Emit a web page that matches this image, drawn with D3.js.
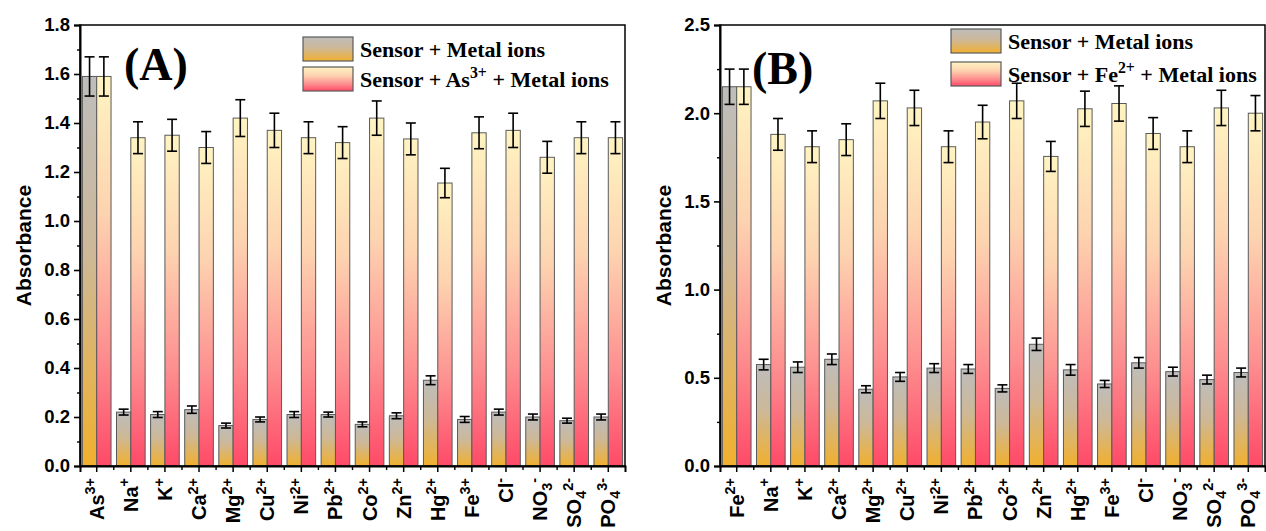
<!DOCTYPE html>
<html>
<head>
<meta charset="utf-8">
<script src="https://cdn.jsdelivr.net/npm/d3@7"></script>
<style>
  body { margin: 0; background: #fff; }
  svg { display: block; }
</style>
</head>
<body>
<div id="grafico"></div>
<script>
// Dados do painel (A)
const ionsA = ['As^{3+}', 'Na^{+}', 'K^{+}', 'Ca^{2+}', 'Mg^{2+}', 'Cu^{2+}', 'Ni^{2+}', 'Pb^{2+}',
  'Co^{2+}', 'Zn^{2+}', 'Hg^{2+}', 'Fe^{3+}', 'Cl^{-}', 'NO_{3}^{-}', 'SO_{4}^{2-}', 'PO_{4}^{3-}'];
const sensorA = [1.59, 0.22, 0.21, 0.23, 0.165, 0.19, 0.21, 0.21, 0.17, 0.205, 0.35, 0.19, 0.22, 0.20, 0.185, 0.20];
const sensorAErr = [0.08, 0.012, 0.012, 0.015, 0.01, 0.01, 0.012, 0.01, 0.01, 0.012, 0.018, 0.012, 0.012, 0.012, 0.01, 0.012];
const sensorAsA = [1.59, 1.34, 1.35, 1.30, 1.42, 1.37, 1.34, 1.32, 1.42, 1.335, 1.155, 1.36, 1.37, 1.26, 1.34, 1.34];
const sensorAsAErr = [0.08, 0.065, 0.065, 0.065, 0.075, 0.07, 0.065, 0.065, 0.07, 0.065, 0.06, 0.065, 0.07, 0.065, 0.065, 0.065];
const ticksA = [0, 0.2, 0.4, 0.6, 0.8, 1.0, 1.2, 1.4, 1.6, 1.8];

// Dados do painel (B)
const ionsB = ['Fe^{2+}', 'Na^{+}', 'K^{+}', 'Ca^{2+}', 'Mg^{2+}', 'Cu^{2+}', 'Ni^{2+}', 'Pb^{2+}',
  'Co^{2+}', 'Zn^{2+}', 'Hg^{2+}', 'Fe^{3+}', 'Cl^{-}', 'NO_{3}^{-}', 'SO_{4}^{2-}', 'PO_{4}^{3-}'];
const sensorB = [2.15, 0.575, 0.56, 0.605, 0.435, 0.505, 0.555, 0.55, 0.44, 0.69, 0.545, 0.465, 0.585, 0.535, 0.49, 0.53];
const sensorBErr = [0.1, 0.03, 0.03, 0.03, 0.02, 0.025, 0.025, 0.025, 0.02, 0.035, 0.03, 0.02, 0.03, 0.025, 0.025, 0.025];
const sensorFeB = [2.15, 1.88, 1.81, 1.85, 2.07, 2.03, 1.81, 1.95, 2.07, 1.755, 2.025, 2.055, 1.885, 1.81, 2.03, 2.0];
const sensorFeBErr = [0.1, 0.09, 0.09, 0.09, 0.1, 0.1, 0.09, 0.095, 0.1, 0.085, 0.1, 0.1, 0.09, 0.09, 0.1, 0.1];
const ticksB = [0, 0.5, 1.0, 1.5, 2.0, 2.5];

const largura = 1266;
const altura = 531;

const svg = d3.select('#grafico').append('svg')
  .attr('width', largura)
  .attr('height', altura);

svg.append('rect').attr('width', largura).attr('height', altura).attr('fill', '#fff');

// Gradientes das barras
const defs = svg.append('defs');
function gradiente(id, stops) {
  const g = defs.append('linearGradient').attr('id', id)
    .attr('x1', 0).attr('y1', 0).attr('x2', 0).attr('y2', 1);
  stops.forEach(([o, c]) => g.append('stop').attr('offset', o).attr('stop-color', c));
}
gradiente('gradCinza', [[0, '#bebdbc'], [0.45, '#cdb898'], [1, '#f1b02e']]);
gradiente('gradRosa', [[0, '#fff4c2'], [0.35, '#fdd3b0'], [0.7, '#fd9090'], [1, '#ff4a68']]);

// Escreve texto com sobrescritos/subscritos: 'NO_{3}^{-}'
function textoQuimico(sel, str, tamanho, escala) {
  const partes = [];
  const re = /([_^])\{([^}]*)\}|([^_^]+)/g;
  let m;
  while ((m = re.exec(str)) !== null) {
    if (m[3]) partes.push({ t: m[3], tipo: 'base' });
    else partes.push({ t: m[2], tipo: m[1] === '^' ? 'sup' : 'sub' });
  }
  let atual = 0;
  partes.forEach((p) => {
    const alvo = p.tipo === 'sup' ? -0.42 * tamanho : p.tipo === 'sub' ? 0.25 * tamanho : 0;
    sel.append('tspan')
      .attr('dy', alvo - atual)
      .style('font-size', p.tipo === 'base' ? `${tamanho}px` : `${tamanho * escala}px`)
      .text(p.t);
    atual = alvo;
  });
}

function painel(cfg) {
  const { x0, x1, y0, y1, ions, s1, e1, s2, e2, maxY, ticks, minor, letra, letraPos, legenda } = cfg;

  const x = d3.scaleBand().domain(ions).range([x0, x1]).paddingInner(0.16).paddingOuter(0.07);
  const xs = d3.scaleBand().domain(['a', 'b']).range([0, x.bandwidth()]);
  const y = d3.scaleLinear().domain([0, maxY]).range([y0, y1]);

  const g = svg.append('g');

  const dados = ions.map((ion, i) => [
    { ion, k: 'a', v: s1[i], e: e1[i] },
    { ion, k: 'b', v: s2[i], e: e2[i] }
  ]).flat();

  // Barras
  g.selectAll('.bar').data(dados).enter().append('rect')
    .attr('x', (d) => x(d.ion) + xs(d.k))
    .attr('width', xs.bandwidth())
    .attr('y', (d) => y(d.v))
    .attr('height', (d) => y(0) - y(d.v))
    .attr('fill', (d) => (d.k === 'a' ? 'url(#gradCinza)' : 'url(#gradRosa)'))
    .attr('stroke', '#5a5a5a')
    .attr('stroke-width', 1);

  // Barras de erro
  const erro = g.selectAll('.err').data(dados).enter().append('g')
    .attr('transform', (d) => `translate(${x(d.ion) + xs(d.k) + xs.bandwidth() / 2},0)`)
    .attr('stroke', '#000').attr('stroke-width', 1.6);
  erro.append('line').attr('y1', (d) => y(d.v + d.e)).attr('y2', (d) => y(d.v - d.e));
  erro.append('line').attr('x1', -5).attr('x2', 5).attr('y1', (d) => y(d.v + d.e)).attr('y2', (d) => y(d.v + d.e));
  erro.append('line').attr('x1', -5).attr('x2', 5).attr('y1', (d) => y(d.v - d.e)).attr('y2', (d) => y(d.v - d.e));

  // Moldura
  g.append('rect').attr('x', x0).attr('y', y1).attr('width', x1 - x0).attr('height', y0 - y1)
    .attr('fill', 'none').attr('stroke', '#000').attr('stroke-width', 1.5);

  // Eixo Y
  const eixoY = g.append('g').attr('transform', `translate(${x0},0)`)
    .call(d3.axisLeft(y).tickValues(ticks).tickSize(6).tickPadding(4).tickFormat(d3.format('.1f')));
  eixoY.select('.domain').attr('stroke-width', 2);
  eixoY.selectAll('.tick line').attr('stroke-width', 1.6);
  eixoY.selectAll('text')
    .style('font-family', '"Liberation Sans", Arial, sans-serif')
    .style('font-weight', 'bold').style('font-size', '18.5px').attr('fill', '#000');
  g.append('g').attr('transform', `translate(${x0},0)`)
    .call(d3.axisLeft(y).tickValues(minor).tickSize(3).tickFormat(''))
    .call((a) => a.select('.domain').remove())
    .selectAll('line').attr('stroke-width', 1.4);

  // Eixo X
  const eixoX = g.append('g').attr('transform', `translate(0,${y0})`)
    .call(d3.axisBottom(x).tickSize(6).tickFormat(''));
  eixoX.select('.domain').attr('stroke-width', 2);
  eixoX.selectAll('.tick line').attr('stroke-width', 1.5);
  const limites = ions.slice(1).map((ion) => x(ion) - x.step() * x.paddingInner() / 2);
  g.selectAll('.minx').data(limites).enter().append('line')
    .attr('x1', (d) => d).attr('x2', (d) => d).attr('y1', y0).attr('y2', y0 + 4)
    .attr('stroke', '#000').attr('stroke-width', 1.4);

  // Rótulos dos íons
  ions.forEach((ion) => {
    const cx = x(ion) + x.bandwidth() / 2 + 7;
    const t = g.append('text')
      .attr('transform', `translate(${cx},${y0 + 12}) rotate(-90)`)
      .attr('text-anchor', 'end')
      .style('font-family', '"Liberation Sans", Arial, sans-serif')
      .style('font-weight', 'bold');
    textoQuimico(t, ion, 20, 0.72);
  });

  // Título do eixo Y
  g.append('text')
    .attr('transform', `translate(${x0 - 49},${(y0 + y1) / 2}) rotate(-90)`)
    .attr('text-anchor', 'middle')
    .style('font-family', '"Liberation Sans", Arial, sans-serif')
    .style('font-weight', 'bold').style('font-size', '21px')
    .text('Absorbance');

  // Letra do painel
  g.append('text').attr('x', letraPos[0]).attr('y', letraPos[1])
    .style('font-family', '"Liberation Serif", "Times New Roman", serif')
    .style('font-weight', 'bold').style('font-size', '46px')
    .text(letra);

  // Legenda
  legenda.itens.forEach((item, i) => {
    const ly = legenda.y + i * legenda.passo;
    g.append('rect').attr('x', legenda.x).attr('y', ly).attr('width', 50).attr('height', 24)
      .attr('fill', i === 0 ? 'url(#gradCinza)' : 'url(#gradRosa)')
      .attr('stroke', '#5a5a5a').attr('stroke-width', 1.2);
    const t = g.append('text').attr('x', legenda.x + 57).attr('y', ly + 20)
      .style('font-family', '"Liberation Serif", "Times New Roman", serif')
      .style('font-weight', 'bold');
    textoQuimico(t, item, 22, 0.72);
  });
}

painel({
  x0: 80, x1: 625, y0: 466, y1: 25,
  ions: ionsA, s1: sensorA, e1: sensorAErr, s2: sensorAsA, e2: sensorAsAErr,
  maxY: 1.8, ticks: ticksA, minor: d3.range(0.1, 1.8, 0.2),
  letra: '(A)', letraPos: [124, 80],
  legenda: { x: 303, y: 37, passo: 30, itens: ['Sensor + Metal ions', 'Sensor + As^{3+} + Metal ions'] }
});

painel({
  x0: 720, x1: 1265, y0: 466, y1: 25,
  ions: ionsB, s1: sensorB, e1: sensorBErr, s2: sensorFeB, e2: sensorFeBErr,
  maxY: 2.5, ticks: ticksB, minor: d3.range(0.25, 2.5, 0.5),
  letra: '(B)', letraPos: [752, 84],
  legenda: { x: 951, y: 29, passo: 33, itens: ['Sensor + Metal ions', 'Sensor + Fe^{2+} + Metal ions'] }
});
</script>
</body>
</html>
